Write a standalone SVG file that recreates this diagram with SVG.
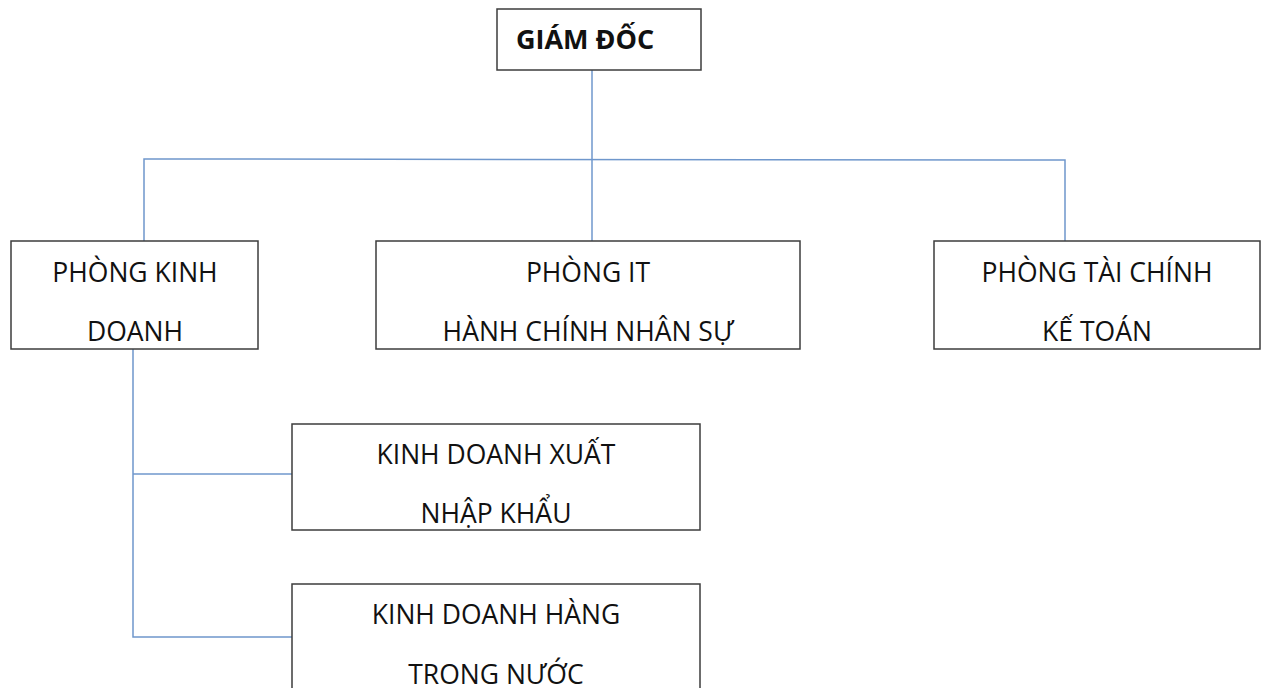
<svg xmlns="http://www.w3.org/2000/svg" width="1264" height="688" viewBox="0 0 1264 688">
<style>
.box{fill:#fff;stroke:#3c3c3c;stroke-width:1.5}
.t{font-family:"Open Sans","Liberation Sans",sans-serif;font-size:26.5px;fill:#111;text-anchor:middle}
.b{font-family:"Open Sans","Liberation Sans",sans-serif;font-size:27px;font-weight:bold;fill:#111}
.c{fill:none;stroke:#6f97cc;stroke-width:1.5}
</style>
<rect width="1264" height="688" fill="#fff"/>
<g id="connectors">
<path class="c" d="M592,70 V241"/>
<path class="c" d="M144,241 V159 L1065,160 V241"/>
<path class="c" d="M133,349 V637 H292"/>
<path class="c" d="M133,474 H292"/>
</g>
<g id="giam-doc">
<rect class="box" x="497" y="9" width="204" height="61"/>
<text class="b" x="516" y="49">GIÁM ĐỐC</text>
</g>
<g id="phong-kinh-doanh">
<rect class="box" x="11" y="241" width="247" height="108"/>
<text class="t" x="135" y="282">PHÒNG KINH</text>
<text class="t" x="135" y="341">DOANH</text>
</g>
<g id="phong-it">
<rect class="box" x="376" y="241" width="424" height="108"/>
<text class="t" x="588" y="282">PHÒNG IT</text>
<text class="t" x="588" y="341">HÀNH CHÍNH NHÂN SỰ</text>
</g>
<g id="phong-tai-chinh">
<rect class="box" x="934" y="241" width="326" height="108"/>
<text class="t" x="1097" y="282">PHÒNG TÀI CHÍNH</text>
<text class="t" x="1097" y="341">KẾ TOÁN</text>
</g>
<g id="kd-xnk">
<rect class="box" x="292" y="424" width="408" height="106"/>
<text class="t" x="496" y="464">KINH DOANH XUẤT</text>
<text class="t" x="496" y="523">NHẬP KHẨU</text>
</g>
<g id="kd-trong-nuoc">
<rect class="box" x="292" y="584" width="408" height="110"/>
<text class="t" x="496" y="624">KINH DOANH HÀNG</text>
<text class="t" x="496" y="684">TRONG NƯỚC</text>
</g>
</svg>
